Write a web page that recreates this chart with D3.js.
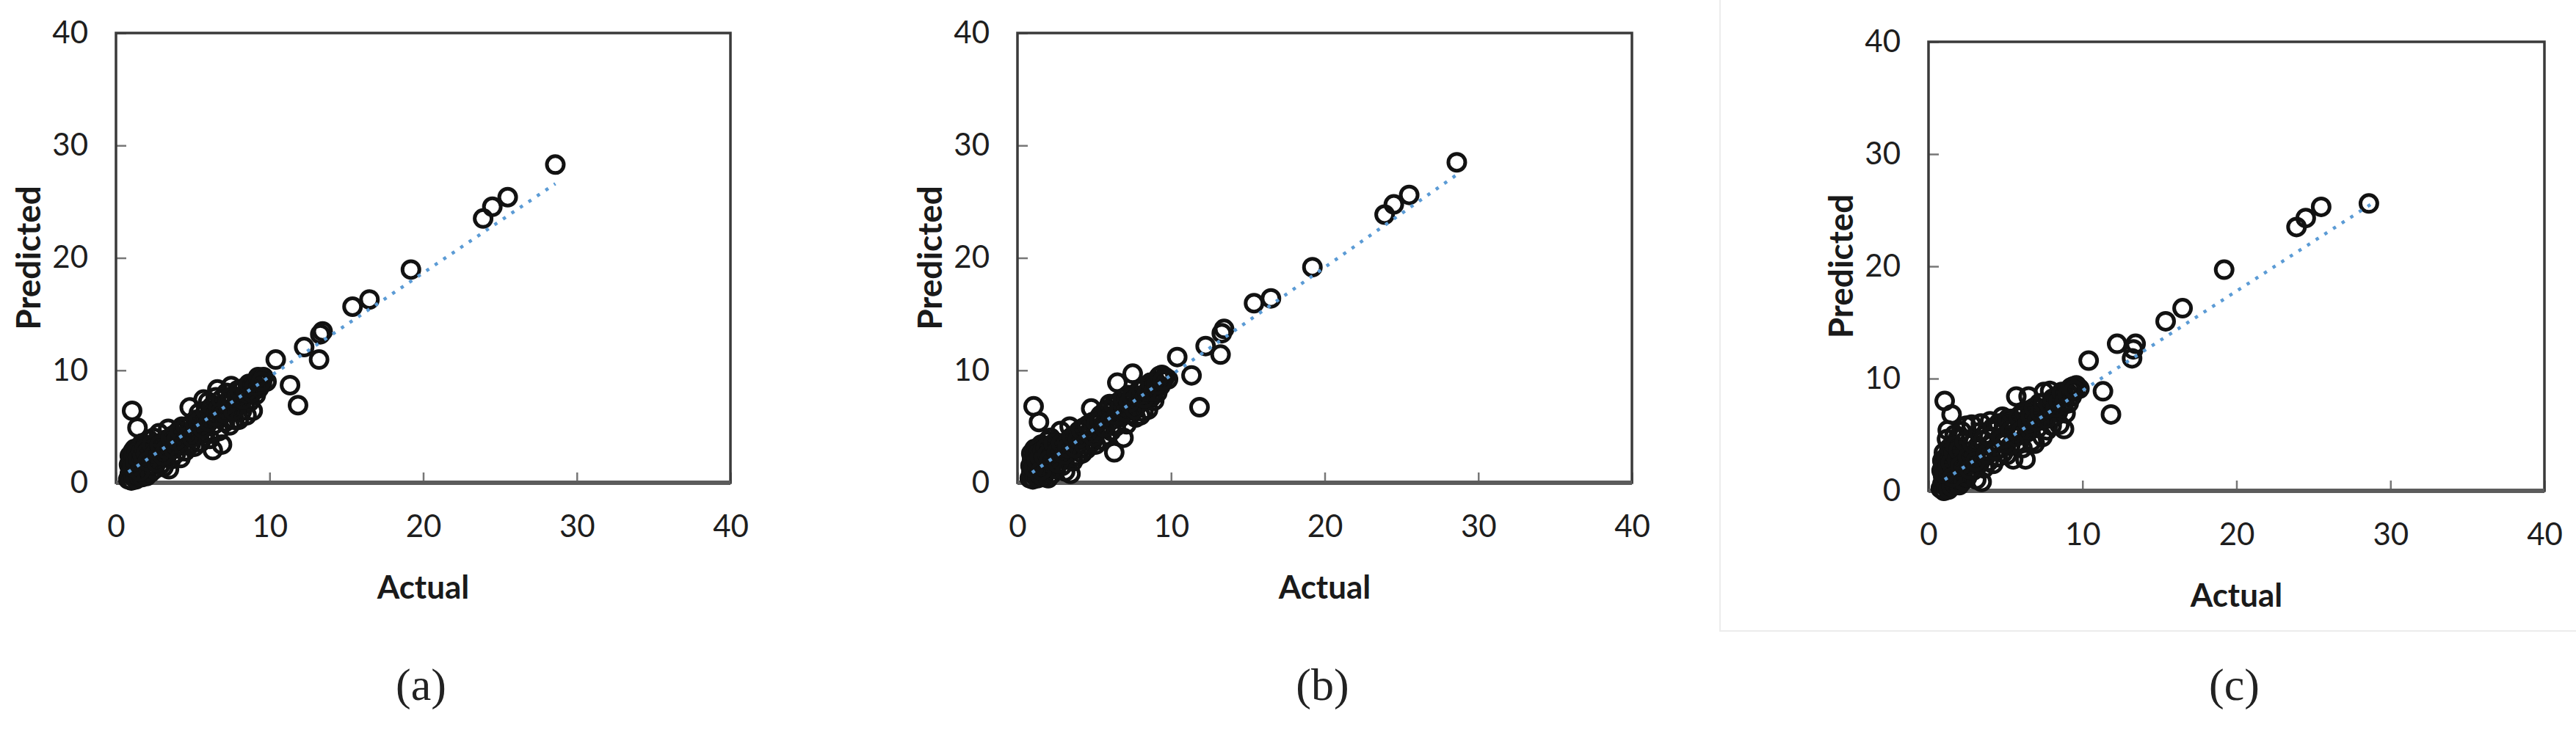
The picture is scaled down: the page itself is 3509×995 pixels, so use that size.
<!DOCTYPE html>
<html>
<head>
<meta charset="utf-8">
<script src="https://cdn.jsdelivr.net/npm/d3@7"></script>
<style>
    html, body { margin: 0; padding: 0; background: #ffffff; }
    svg { display: block; }
</style>
</head>
<body>
<div id="chart"></div>
<script>
// actual values, shared by the three models
const actual = [
    0.80, 0.85, 0.90, 0.90, 0.95, 1.00, 1.00, 1.05, 1.10, 1.10,
    1.15, 1.20, 1.20, 1.25, 1.30, 1.30, 1.35, 1.40, 1.45, 1.50,
    1.50, 1.55, 1.60, 1.65, 1.70, 1.70, 1.75, 1.80, 1.85, 1.90,
    1.95, 2.00, 2.00, 2.10, 2.15, 2.20, 2.25, 2.30, 2.40, 2.45,
    2.50, 2.60, 2.70, 2.80, 2.90, 3.00,
    3.10, 3.20, 3.30, 3.40, 3.45, 3.50, 3.60, 3.70, 3.80, 3.90,
    4.00, 4.10, 4.20, 4.30, 4.40, 4.50, 4.60, 4.80, 4.85, 4.90,
    5.00, 5.10, 5.20, 5.30, 5.40, 5.50, 5.60, 5.70, 5.80, 5.90,
    6.00, 6.10, 6.20, 6.30, 6.40, 6.50, 6.60, 6.70, 6.80, 6.90,
    7.00, 7.10, 7.20, 7.30, 7.40, 7.50, 7.60, 7.70, 7.80, 7.90,
    8.00, 8.10, 8.20, 8.30, 8.40, 8.50, 8.60, 8.70, 8.80, 8.90,
    9.00, 9.10, 9.20, 9.30, 9.40, 9.50, 9.60, 9.80,
    10.40, 11.33, 11.85, 12.25, 13.45, 13.22, 15.40, 16.50, 19.20, 23.90,
    24.50, 25.50, 28.60, 13.30,
    0.95, 1.05, 1.15, 1.25, 1.35, 1.45, 1.55, 1.65, 1.75, 1.85,
    1.95, 2.05, 2.35, 2.55, 2.65, 2.85, 3.05, 3.25, 3.55, 3.75,
    3.95, 4.15, 4.35, 4.55, 4.75, 4.95, 5.15, 5.35, 5.65, 5.85,
    6.05, 6.25, 6.45, 6.65, 6.85, 7.05, 7.25, 7.45, 7.65, 7.85,
    8.05, 8.25, 8.45, 8.65, 8.85, 9.05, 9.25, 9.45
];

// predicted, model (a)
const predA = [
    0.30, 1.60, 0.80, 2.40, 1.20, 0.20, 2.00, 6.40, 1.00, 2.80,
    0.50, 1.50, 3.00, 0.80, 2.20, 0.30, 1.80, 4.90, 1.10, 2.60,
    0.60, 3.20, 1.40, 2.10, 0.50, 3.50, 1.70, 2.70, 0.90, 2.00,
    3.30, 1.30, 0.60, 2.50, 3.80, 1.60, 0.90, 2.90, 2.00, 4.00,
    1.20, 3.20, 2.40, 4.40, 1.60, 3.00,
    1.40, 3.80, 2.40, 4.80, 1.20, 3.20, 2.10, 4.20, 3.60, 2.60,
    4.50, 3.30, 2.20, 5.00, 3.90, 2.80, 4.40, 6.70, 3.40, 5.20,
    4.60, 3.20, 5.60, 4.20, 6.20, 3.60, 5.00, 7.40, 4.40, 5.80,
    7.20, 3.90, 6.20, 2.90, 5.20, 7.60, 8.30, 4.60, 6.00, 3.40,
    7.00, 5.40, 8.00, 6.40, 5.10, 8.60, 7.40, 5.60, 6.80, 8.20,
    5.60, 7.60, 6.40, 8.40, 7.00, 6.00, 8.00, 7.20, 8.60, 6.40,
    8.80, 7.80, 9.00, 8.40, 9.20, 8.80, 9.40, 9.00,
    10.96, 8.68, 6.90, 12.07, 13.46, 10.96, 15.66, 16.30, 18.96, 23.50,
    24.55, 25.40, 28.30, 13.20,
    1.90, 1.40, 2.40, 1.90, 2.70, 2.20, 1.00, 2.80, 2.40, 3.00,
    2.60, 1.90, 3.40, 2.60, 1.80, 3.40, 2.40, 3.00, 4.00, 3.00,
    3.80, 4.60, 3.30, 5.00, 4.20, 4.00, 5.20, 5.40, 4.80, 6.40,
    5.40, 6.80, 5.90, 6.60, 7.40, 6.20, 7.00, 7.60, 6.40, 7.60,
    8.20, 7.40, 8.00, 8.80, 8.00, 8.60, 9.40, 9.00
];

// predicted, model (b)
const predB = [
    0.40, 1.50, 0.90, 2.60, 1.10, 0.30, 2.10, 6.80, 0.80, 3.00,
    0.60, 1.70, 2.80, 1.00, 2.00, 0.40, 1.40, 5.40, 1.20, 2.40,
    0.70, 3.40, 1.60, 2.30, 0.50, 3.20, 1.20, 2.90, 1.00, 1.80,
    3.70, 1.40, 0.40, 2.20, 4.00, 1.90, 0.80, 3.10, 2.40, 3.60,
    1.20, 3.40, 2.10, 4.60, 1.50, 2.80,
    1.00, 3.60, 2.60, 5.00, 0.80, 3.30, 1.90, 4.20, 3.80, 2.40,
    4.60, 3.00, 2.60, 4.90, 4.10, 3.00, 4.40, 6.60, 3.60, 5.40,
    4.20, 3.40, 5.60, 4.80, 6.00, 3.80, 5.20, 6.40, 4.20, 5.90,
    7.00, 4.60, 6.40, 2.70, 5.00, 8.90, 7.20, 5.80, 6.30, 4.00,
    7.20, 5.20, 7.80, 6.60, 6.10, 9.70, 7.40, 5.80, 6.90, 8.20,
    6.00, 7.60, 6.30, 8.60, 7.30, 6.50, 8.20, 7.60, 8.80, 7.30,
    9.00, 8.00, 9.40, 8.60, 9.60, 9.20, 9.40, 9.20,
    11.18, 9.55, 6.72, 12.16, 13.68, 11.40, 15.97, 16.40, 19.17, 23.85,
    24.76, 25.60, 28.50, 13.30,
    2.00, 1.30, 2.50, 2.00, 2.60, 2.30, 1.10, 2.90, 2.30, 3.10,
    2.50, 2.00, 3.50, 2.70, 1.70, 3.50, 2.50, 3.10, 4.10, 3.10,
    3.90, 4.70, 3.40, 5.10, 4.30, 4.10, 5.30, 5.50, 4.90, 6.50,
    5.50, 6.90, 6.00, 6.70, 7.50, 6.30, 7.10, 7.70, 6.50, 7.70,
    8.30, 7.50, 8.10, 8.90, 8.10, 8.70, 9.50, 9.10
];

// predicted, model (c)
const predC = [
    0.20, 1.80, 0.60, 2.70, 1.30, 0.00, 3.40, 8.00, 0.70, 2.50,
    0.30, 1.20, 4.60, 5.40, 2.00, 0.10, 1.60, 3.00, 0.90, 6.80,
    0.40, 3.60, 1.70, 2.40, 0.60, 5.00, 1.10, 3.10, 0.70, 2.20,
    4.80, 1.50, 0.50, 2.80, 5.30, 1.30, 0.90, 3.20, 2.10, 5.80,
    1.20, 3.50, 2.60, 5.90, 1.80, 3.00,
    1.00, 4.00, 2.40, 6.00, 0.80, 3.40, 2.00, 5.00, 3.20, 2.60,
    6.20, 4.10, 2.40, 5.40, 3.60, 3.00, 4.70, 6.60, 3.40, 5.80,
    4.40, 3.20, 6.00, 4.00, 6.40, 2.80, 5.00, 8.40, 4.30, 5.60,
    6.80, 3.80, 6.20, 2.80, 5.20, 8.40, 7.20, 4.40, 6.00, 4.20,
    7.40, 5.60, 7.80, 6.40, 4.80, 8.80, 7.20, 5.40, 7.00, 8.90,
    5.80, 7.50, 6.60, 8.20, 7.00, 5.90, 8.30, 7.60, 5.50, 6.90,
    8.80, 7.80, 9.00, 8.40, 9.30, 8.90, 9.40, 9.10,
    11.60, 8.87, 6.80, 13.10, 13.10, 11.80, 15.10, 16.27, 19.70, 23.50,
    24.30, 25.30, 25.60, 12.60,
    2.20, 1.50, 3.00, 2.20, 3.80, 2.50, 1.20, 3.40, 4.00, 2.80,
    3.60, 2.20, 4.40, 3.00, 1.90, 4.20, 2.60, 5.20, 4.50, 3.30,
    4.80, 5.60, 3.60, 6.00, 4.60, 4.20, 6.40, 5.40, 4.80, 6.60,
    5.40, 7.00, 6.00, 6.60, 7.40, 6.20, 7.00, 7.80, 6.40, 7.60,
    8.20, 7.40, 8.00, 8.80, 8.00, 8.60, 9.20, 9.00
];

// linear trend lines, [actual, predicted] at both ends
const trendA = [[0.80, 0.95], [28.60, 26.60]];
const trendB = [[0.95, 0.90], [28.60, 27.40]];
const trendC = [[1.05, 1.00], [28.70, 25.50]];

const axisTicks = [0, 10, 20, 30, 40];
const panelLabels = ['(a)', '(b)', '(c)'];
const xTitle = 'Actual';
const yTitle = 'Predicted';

// panel frames in page pixels
const panels = [
    {left: 158, right: 995, top: 45, bottom: 658, pred: predA, trend: trendA, label: panelLabels[0]},
    {left: 1386, right: 2223, top: 45, bottom: 658, pred: predB, trend: trendB, label: panelLabels[1]},
    {left: 2627, right: 3466, top: 57, bottom: 669, pred: predC, trend: trendC, label: panelLabels[2]}
];

const W = 3509, H = 995;
const tickFont = 'Lato, "Open Sans", sans-serif';

const svg = d3.select('#chart')
    .append('svg')
    .attr('width', W)
    .attr('height', H);

// faint screenshot border round panel (c)
svg.append('rect')
    .attr('x', 2343)
    .attr('y', -4)
    .attr('width', 1180)
    .attr('height', 864)
    .attr('fill', 'none')
    .attr('stroke', '#ececec')
    .attr('stroke-width', 2);

panels.forEach(p => {
    const x = d3.scaleLinear().domain([0, 40]).range([p.left, p.right]);
    const y = d3.scaleLinear().domain([0, 40]).range([p.bottom, p.top]);

    const g = svg.append('g');

    // axes, ticks pointing inside
    const xAxis = d3.axisBottom(x)
        .tickValues(axisTicks)
        .tickSizeInner(-14)
        .tickSizeOuter(0)
        .tickPadding(44)
        .tickFormat(d3.format('d'));

    const yAxis = d3.axisLeft(y)
        .tickValues(axisTicks)
        .tickSizeInner(-14)
        .tickSizeOuter(0)
        .tickPadding(38)
        .tickFormat(d3.format('d'));

    const gx = g.append('g')
        .attr('transform', `translate(0,${p.bottom})`)
        .call(xAxis);
    const gy = g.append('g')
        .attr('transform', `translate(${p.left},0)`)
        .call(yAxis);

    [gx, gy].forEach(a => {
        a.select('.domain').remove();
        a.selectAll('line')
            .attr('stroke', '#777777')
            .attr('stroke-width', 2.5);
        a.selectAll('text')
            .style('font-family', tickFont)
            .style('font-size', '42px')
            .attr('fill', '#1e1e1e');
    });

    // frame
    g.append('rect')
        .attr('x', p.left)
        .attr('y', p.top)
        .attr('width', p.right - p.left)
        .attr('height', p.bottom - p.top)
        .attr('fill', 'none')
        .attr('stroke', '#3a3a3a')
        .attr('stroke-width', 3.5);

    g.append('line')
        .attr('x1', p.left)
        .attr('x2', p.right)
        .attr('y1', p.bottom)
        .attr('y2', p.bottom)
        .attr('stroke', '#5c5c5c')
        .attr('stroke-width', 6);

    // the points
    const pts = actual.map((a, i) => ({a: a, p: p.pred[i]}));
    g.append('g')
        .selectAll('circle')
        .data(pts)
        .enter()
        .append('circle')
        .attr('cx', d => x(d.a))
        .attr('cy', d => y(d.p))
        .attr('r', 11.5)
        .attr('fill', 'none')
        .attr('stroke', '#121212')
        .attr('stroke-width', 5);

    // dotted trend line
    g.append('path')
        .datum(p.trend)
        .attr('d', d3.line().x(d => x(d[0])).y(d => y(d[1])))
        .attr('fill', 'none')
        .attr('stroke', '#5b9bd5')
        .attr('stroke-width', 4.5)
        .attr('stroke-dasharray', '4.5 9.5');

    // titles
    const cx = (p.left + p.right) / 2;
    const cy = (p.top + p.bottom) / 2;

    g.append('text')
        .attr('text-anchor', 'middle')
        .attr('dominant-baseline', 'central')
        .attr('transform', `translate(${p.left - 121},${cy}) rotate(-90)`)
        .style('font-family', tickFont)
        .style('font-weight', 'bold')
        .style('font-size', '46px')
        .attr('fill', '#1a1a1a')
        .text(yTitle);

    g.append('text')
        .attr('text-anchor', 'middle')
        .attr('dominant-baseline', 'central')
        .attr('x', cx)
        .attr('y', p.bottom + 141)
        .style('font-family', tickFont)
        .style('font-weight', 'bold')
        .style('font-size', '44px')
        .attr('fill', '#1a1a1a')
        .text(xTitle);

    g.append('text')
        .attr('text-anchor', 'middle')
        .attr('dominant-baseline', 'central')
        .attr('x', cx - 3)
        .attr('y', 933)
        .style('font-family', '"Liberation Serif", "Times New Roman", serif')
        .style('font-size', '62px')
        .attr('fill', '#222222')
        .text(p.label);
});
</script>
</body>
</html>
